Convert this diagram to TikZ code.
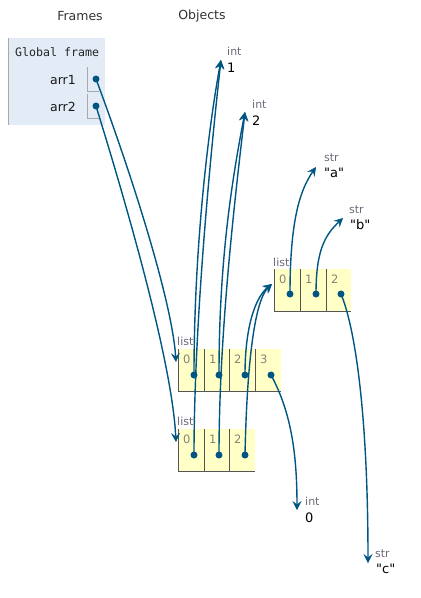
\documentclass[tikz,border=0pt]{standalone}
\usepackage{fontspec}
\setmainfont{DejaVu Sans}
\setmonofont{DejaVu Sans Mono}
\newfontfamily\valfont{DejaVu Sans}
\usetikzlibrary{arrows.meta}
\definecolor{ptrc}{HTML}{005583}
\definecolor{framebg}{HTML}{E2EBF6}
\definecolor{framebd}{HTML}{A8A8A8}
\definecolor{listbg}{HTML}{FFFFC6}
\definecolor{cellbdc}{HTML}{555555}
\definecolor{typec}{HTML}{6A6A7A}
\definecolor{idxc}{HTML}{86827A}
\begin{document}
\begin{tikzpicture}[x=1pt,y=-1pt,
  hdr/.style={font=\fontsize{12.5}{14}\selectfont, text=black!80, inner sep=0},
  monotxt/.style={font=\ttfamily\fontsize{11.6}{13}\selectfont, text=black!85, inner sep=0, anchor=west},
  vartxt/.style={font=\fontsize{12.5}{14}\selectfont, text=black!90, inner sep=0, anchor=east},
  typelbl/.style={font=\fontsize{11}{12}\selectfont, text=typec, inner sep=0, anchor=west},
  valtxt/.style={font=\valfont\fontsize{13}{14}\selectfont, text=black, inner sep=0, anchor=west},
  idxlbl/.style={font=\fontsize{11.5}{12}\selectfont, text=idxc, inner sep=0, anchor=west},
  dotnode/.style={circle, fill=ptrc, inner sep=0, minimum size=7pt},
  cellbd/.style={draw=cellbdc, line width=1pt},
  ptrline/.style={draw=ptrc, line width=1.4pt, -{Stealth[length=9pt,width=9pt,inset=3.5pt,line width=0.6pt]}},
]
\useasboundingbox (0,0) rectangle (421,598);

% headers
\node[hdr] (hframes) at (80,16) {Frames};
\node[hdr] (hobjects) at (202,16) {Objects};

% global frame
\fill[framebg] (8,38) rectangle (105,125);
\draw[framebd, line width=1pt] (8,38) -- (8,125);
\node[monotxt] (gf) at (15,52) {Global frame};
\node[vartxt] (v1) at (76,80) {arr1};
\node[vartxt] (v2) at (76,107) {arr2};
\draw[framebd, line width=1pt] (87,67) -- (87,91) -- (99,91);
\draw[framebd, line width=1pt] (87,94) -- (87,118) -- (99,118);
\node[dotnode] (g1) at (96,79) {};
\node[dotnode] (g2) at (96,106) {};

% int/str objects
\node[typelbl] (t1) at (227,51) {int};
\node[valtxt] (n1) at (227,68) {1};
\coordinate (tip1) at (221,60);

\node[typelbl] (t2) at (252,104) {int};
\node[valtxt] (n2) at (252,121) {2};
\coordinate (tip2) at (245,112);

\node[typelbl] (ta) at (324,158) {str};
\node[valtxt] (sa) at (324,173) {"a"};
\coordinate (tipa) at (316,167);

\node[typelbl] (tb) at (349,210) {str};
\node[valtxt] (sb) at (350,225) {"b"};
\coordinate (tipb) at (343,218);

\node[typelbl] (t0) at (305,501) {int};
\node[valtxt] (n0) at (305,518) {0};
\coordinate (tip0) at (297,510);

\node[typelbl] (tc) at (375,554) {str};
\node[valtxt] (sc) at (376,569) {"c"};
\coordinate (tipc) at (368,563);

% right list (3 elements)
\node[typelbl] (lr) at (273,262) {list};
\fill[listbg] (274,269) rectangle (351,311);
\draw[cellbd] (274,269) -- (274,311) -- (351,311);
\foreach \x in {300,326} \draw[cellbd] (\x,269) -- (\x,311);
\node[idxlbl] (ri0) at (279,279) {0};
\node[idxlbl] (ri1) at (305,279) {1};
\node[idxlbl] (ri2) at (331,279) {2};
\node[dotnode] (r0) at (290,294) {};
\node[dotnode] (r1) at (316,294) {};
\node[dotnode] (r2) at (341,294) {};
\coordinate (tipr) at (272,284);

% middle list (4 elements)
\node[typelbl] (lm) at (177,341) {list};
\fill[listbg] (178,349) rectangle (281,391);
\draw[cellbd] (178,349) -- (178,391) -- (281,391);
\foreach \x in {204,229,255} \draw[cellbd] (\x,349) -- (\x,391);
\node[idxlbl] (mi0) at (183,359) {0};
\node[idxlbl] (mi1) at (209,359) {1};
\node[idxlbl] (mi2) at (234,359) {2};
\node[idxlbl] (mi3) at (260,359) {3};
\node[dotnode] (m0) at (194,375) {};
\node[dotnode] (m1) at (219,375) {};
\node[dotnode] (m2) at (245,375) {};
\node[dotnode] (m3) at (271,375) {};
\coordinate (tipm) at (176,362);

% bottom list (3 elements)
\node[typelbl] (lb) at (177,421) {list};
\fill[listbg] (178,429) rectangle (255,471);
\draw[cellbd] (178,429) -- (178,471) -- (255,471);
\foreach \x in {204,229} \draw[cellbd] (\x,429) -- (\x,471);
\node[idxlbl] (bi0) at (183,439) {0};
\node[idxlbl] (bi1) at (209,439) {1};
\node[idxlbl] (bi2) at (234,439) {2};
\node[dotnode] (b0) at (194,455) {};
\node[dotnode] (b1) at (219,455) {};
\node[dotnode] (b2) at (245,455) {};
\coordinate (tipb3) at (176,442);

% pointers
\draw[ptrline] (g1.center) .. controls (130,170) and (172,300) .. (tipm);
\draw[ptrline] (g2.center) .. controls (125,200) and (172,360) .. (tipb3);

\draw[ptrline] (m0.center) .. controls (194,250) and (208,130) .. (tip1);
\draw[ptrline] (b0.center) .. controls (194,320) and (212,140) .. (tip1);
\draw[ptrline] (m1.center) .. controls (219,260) and (232,180) .. (tip2);
\draw[ptrline] (b1.center) .. controls (219,330) and (236,190) .. (tip2);

\draw[ptrline] (m2.center) .. controls (245,320) and (258,295) .. (tipr);
\draw[ptrline] (b2.center) .. controls (247,360) and (255,300) .. (tipr);
\draw[ptrline] (m3.center) .. controls (290,410) and (297,450) .. (tip0);

\draw[ptrline] (r0.center) .. controls (290,220) and (300,190) .. (tipa);
\draw[ptrline] (r1.center) .. controls (316,250) and (325,235) .. (tipb);
\draw[ptrline] (r2.center) .. controls (356,330) and (368,420) .. (tipc);
\end{tikzpicture}
\end{document}
